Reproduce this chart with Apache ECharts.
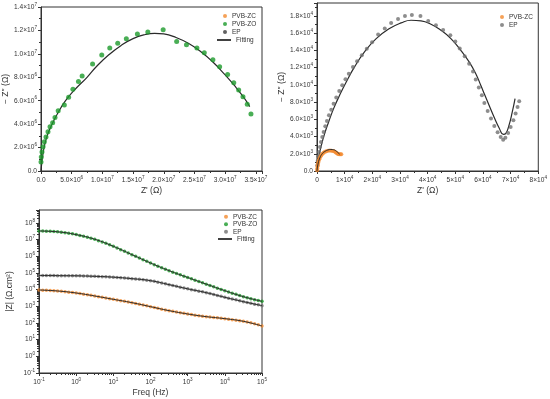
<!DOCTYPE html>
<html><head><meta charset="utf-8">
<script src="https://cdn.jsdelivr.net/npm/echarts@6/dist/echarts.min.js"></script>
<style>html,body{margin:0;padding:0;background:#fff}#c{width:550px;height:399px}</style>
</head><body><div id="c"></div>
<script>
// ---- Chart 1: Nyquist PVB-ZO (values in MΩ) ----
const zoRe = [0,0.05,0.16,0.33,0.54,0.81,1.14,1.47,1.9,2.28,2.8,3.8,4.5,5.2,6.1,6.7,8.4,9.9,11.2,12.5,13.9,15.7,17.4,19.9,22.1,23.7,25.4,26.6,28.0,29.1,30.4,31.4,32.2,32.9,33.6,34.2];
const zoIm = [0.77,1.2,1.63,2.06,2.49,2.91,3.34,3.77,4.11,4.57,5.14,5.63,6.3,6.97,7.63,8.1,9.14,9.9,10.5,10.9,11.3,11.7,11.86,12.06,11.06,10.77,10.49,10.1,9.49,8.91,8.23,7.54,6.91,6.34,5.69,4.86];
const fit1Re = [0,0.2,0.5,1.0,1.8,2.8,4.0,5.6,7.5,9.0,11,13,15,17,18.5,20,22,24,26,28,30,31.5,33,34];
const fit1Im = [0,1.0,2.0,3.0,4.0,5.0,6.0,7.0,8.0,8.9,9.9,10.7,11.3,11.65,11.75,11.7,11.4,10.9,10.2,9.3,8.2,7.3,6.3,5.5];
// ---- Chart 2: Nyquist EP and PVB-ZC (values in kΩ) ----
const epRe = [0.12,0.24,0.48,0.72,1.08,1.44,1.92,2.4,3.0,3.6,4.32,5.16,6.0,6.97,8.05,9.13,10.3,11.5,13.0,14.5,16.2,18.0,19.9,22.1,24.5,26.8,29.3,31.8,34.3,37.4,40.2,43.0,45.6,48.2,50.0,51.6,53.4,55.0,56.4,57.4,58.5,59.6,60.5,61.7,62.9,64.1,65.3,66.4,67.3,68.1,69.1,70.0,71.0,71.8,72.5,73.1];
const epIm = [0.66,1.16,1.7,2.21,2.79,3.37,3.95,4.53,5.19,5.81,6.46,7.12,7.82,8.52,9.29,9.95,10.65,11.3,12.08,12.74,13.43,14.2,14.94,15.83,16.53,17.19,17.65,18.0,18.12,18.0,17.42,16.92,16.37,15.76,15.02,14.21,13.32,12.46,11.54,10.61,9.68,8.79,7.9,6.97,6.08,5.23,4.49,3.95,3.64,3.87,4.41,5.11,5.88,6.66,7.43,8.09];
const fitEpRe = [0,0.24,0.72,1.56,2.76,4.2,6.0,8.17,10.57,13.57,17.17,21.4,26.2,30.4,34.0,37.6,41.2,44.8,48.4,52.0,55.0,57.4,59.2,60.7,62.2,64.0,65.8,67.4,68.2,69.4,70.6,71.6];
const fitEpIm = [0,0.85,1.82,2.98,4.34,5.69,7.24,8.79,10.34,12.08,13.82,15.37,16.53,17.19,17.5,17.42,17.03,16.34,15.37,14.01,12.66,11.3,9.95,8.79,7.63,6.27,5.03,4.26,4.34,5.3,6.85,8.4];
const zcRe = [0.05,0.1,0.2,0.3,0.45,0.6,0.8,1.0,1.3,1.6,2.0,2.4,2.9,3.4,4.0,4.6,5.2,5.8,6.3,6.8,7.2,7.6,8.0,8.4,8.8];
const zcIm = [0.1,0.3,0.55,0.75,0.95,1.15,1.35,1.52,1.7,1.85,2.0,2.12,2.22,2.3,2.35,2.37,2.36,2.32,2.25,2.15,2.05,1.98,1.94,1.93,1.95];
const fitZcRe = [0,0.3,1,2,3,4,5,6,7,7.7,8.2];
const fitZcIm = [0,0.7,1.5,2.05,2.3,2.45,2.5,2.47,2.3,2.1,1.95];
// ---- Chart 3: Bode |Z| ----
const freq = [0.1,0.126,0.158,0.2,0.251,0.316,0.398,0.501,0.631,0.794,
 1,1.26,1.58,2,2.51,3.16,3.98,5.01,6.31,7.94,
 10,12.6,15.8,20,25.1,31.6,39.8,50.1,63.1,79.4,
 100,126,158,200,251,316,398,501,631,794,
 1000,1260,1580,2000,2510,3160,3980,5010,6310,7940,
 10000,12600,15800,20000,25100,31600,39800,50100,63100,79400,100000];
const bodeZO = [3.31e7,3.31e7,3.24e7,3.16e7,3.09e7,2.95e7,2.82e7,2.63e7,2.45e7,2.24e7,2.0e7,1.78e7,1.58e7,1.38e7,1.2e7,1.05e7,8.71e6,7.24e6,6.03e6,4.9e6,3.98e6,3.16e6,2.51e6,2.0e6,1.58e6,1.26e6,1.0e6,7.94e5,6.31e5,5.01e5,3.98e5,3.16e5,2.57e5,2.09e5,1.70e5,1.38e5,1.12e5,9.33e4,7.76e4,6.46e4,5.37e4,4.47e4,3.72e4,3.09e4,2.57e4,2.14e4,1.78e4,1.48e4,1.23e4,1.02e4,8.71e3,7.24e3,6.17e3,5.25e3,4.47e3,3.80e3,3.31e3,2.88e3,2.51e3,2.24e3,2.0e3];
const bodeEP = [7.08e4,7.08e4,7.08e4,7.08e4,7.08e4,6.92e4,6.92e4,6.92e4,6.92e4,6.76e4,6.76e4,6.76e4,6.61e4,6.61e4,6.46e4,6.31e4,6.17e4,6.03e4,5.89e4,5.75e4,5.62e4,5.37e4,5.25e4,5.01e4,4.79e4,4.57e4,4.37e4,4.17e4,3.98e4,3.72e4,3.47e4,3.16e4,2.82e4,2.51e4,2.24e4,2.0e4,1.78e4,1.58e4,1.41e4,1.26e4,1.12e4,1.0e4,9.12e3,8.13e3,7.41e3,6.61e3,5.89e3,5.13e3,4.47e3,3.98e3,3.47e3,3.09e3,2.75e3,2.45e3,2.14e3,1.91e3,1.70e3,1.51e3,1.35e3,1.23e3,1.10e3];
const bodeZC = [9.55e3,9.33e3,9.12e3,8.91e3,8.71e3,8.32e3,7.94e3,7.59e3,7.08e3,6.76e3,6.31e3,5.89e3,5.37e3,5.01e3,4.57e3,4.17e3,3.80e3,3.47e3,3.16e3,2.88e3,2.63e3,2.40e3,2.19e3,2.0e3,1.82e3,1.66e3,1.48e3,1.32e3,1.20e3,1.07e3,955,851,759,676,603,550,501,457,417,380,347,324,295,275,257,240,229,214,204,191,182,170,158,148,138,126,115,102,91.2,77.6,66.1];
const fitFreq = [0.1,0.316,1,3.16,10,31.6,100,316,1000,3162,10000,31620,100000];
const fitZO = [3.31e7,2.95e7,2.0e7,1.05e7,3.98e6,1.26e6,3.98e5,1.38e5,5.37e4,2.14e4,8.71e3,3.80e3,2.0e3];
const fitEP = [7.08e4,6.92e4,6.76e4,6.31e4,5.62e4,4.57e4,3.47e4,2.0e4,1.12e4,6.61e3,3.47e3,1.91e3,1.10e3];
const fitZC = [9.55e3,8.32e3,6.31e3,4.17e3,2.63e3,1.66e3,955,550,347,240,182,126,66.1];

const FF = 'Liberation Sans, Arial, sans-serif';
const C_ZC = '#f28a2e', C_ZO = '#1b9a2a', C_EP = '#707070', C_EP1 = '#3a3a3a', C_FIT = '#2a2a2a';
const zip = (a, b, k) => a.map((v, i) => [v * k, b[i] * k]);
const zip2 = (a, b) => a.map((v, i) => [v, b[i]]);

const rich = {
  m: {fontSize: 6.6, fontFamily: FF, color: '#333', lineHeight: 10},
  e: {fontSize: 4.6, fontFamily: FF, color: '#333', lineHeight: 5, verticalAlign: 'top'}
};
function sci(dec, zeroTxt) {
  return function (v) {
    if (v === 0) return '{m|' + zeroTxt + '}';
    const e = Math.floor(Math.log10(v) + 1e-9);
    const m = v / Math.pow(10, e);
    return '{m|' + m.toFixed(dec) + '×10}{e|' + e + '}';
  };
}
function pow10(v) {
  const e = Math.round(Math.log10(v));
  return '{m|10}{e|' + e + '}';
}
const axLine = {lineStyle: {color: '#333', width: 1}};
const axTick = {show: true, inside: false, length: 3, lineStyle: {color: '#333'}};
const minor2 = {show: true, splitNumber: 2, length: 2, lineStyle: {color: '#333'}};
const nameStyle = {fontSize: 8.5, fontFamily: FF, color: '#333'};

function valAxis(opt) {
  return Object.assign({
    type: 'value', splitLine: {show: false}, minorSplitLine: {show: false},
    axisLine: Object.assign({show: true, onZero: false}, axLine),
    axisTick: axTick, minorTick: minor2, nameLocation: 'middle', nameTextStyle: nameStyle
  }, opt);
}

const option = {
  animation: false,
  backgroundColor: '#fff',
  grid: [
    {left: 40, top: 7, width: 222, height: 164, show: true, borderColor: '#333', borderWidth: 1},
    {left: 317, top: 3, width: 222, height: 168, show: true, borderColor: '#333', borderWidth: 1},
    {left: 39, top: 210, width: 223, height: 163, show: true, borderColor: '#333', borderWidth: 1}
  ],
  xAxis: [
    valAxis({gridIndex: 0, min: 0, max: 3.6e7, interval: 5e6, name: "Z' (Ω)", nameGap: 15,
      axisLabel: {showMaxLabel: false, margin: 4, formatter: sci(1, '0.0'), rich: rich}}),
    valAxis({gridIndex: 1, min: 0, max: 8e4, interval: 1e4, name: "Z' (Ω)", nameGap: 15,
      axisLabel: {margin: 4, formatter: sci(0, '0'), rich: rich}}),
    valAxis({gridIndex: 2, type: 'log', logBase: 10, min: 0.1, max: 1e5, name: 'Freq (Hz)', nameGap: 15,
      minorTick: {show: true, splitNumber: 9, length: 2, lineStyle: {color: '#333'}},
      axisLabel: {margin: 4, formatter: pow10, rich: rich}})
  ],
  yAxis: [
    valAxis({gridIndex: 0, min: 0, max: 1.4e7, interval: 2e6, name: "− Z'' (Ω)", nameGap: 31,
      axisLabel: {margin: 4, formatter: sci(1, '0.0'), rich: rich}}),
    valAxis({gridIndex: 1, min: 0, max: 19500, interval: 2000, name: "− Z'' (Ω)", nameGap: 31,
      axisLabel: {showMaxLabel: false, margin: 4, formatter: sci(1, '0.0'), rich: rich}}),
    valAxis({gridIndex: 2, type: 'log', logBase: 10, min: 0.1, max: 6e8, name: '|Z| (Ω.cm²)', nameGap: 25,
      minorTick: {show: true, splitNumber: 9, length: 2, lineStyle: {color: '#333'}},
      axisLabel: {showMaxLabel: false, margin: 4, formatter: pow10, rich: rich}})
  ],
  legend: [
    {left: 223, top: 12, orient: 'vertical', padding: 0, itemGap: 0, itemWidth: 4, itemHeight: 4, icon: 'circle', selectedMode: false,
      textStyle: {fontSize: 6.5, fontFamily: FF, color: '#333', lineHeight: 8},
      data: [{name: 'PVB-ZC', itemStyle: {color: C_ZC}}, {name: 'PVB-ZO', itemStyle: {color: C_ZO}}, {name: 'EP', itemStyle: {color: C_EP1}}]},
    {left: 217, top: 36, padding: 0, itemWidth: 14, itemHeight: 1.6, icon: 'rect', selectedMode: false,
      textStyle: {fontSize: 6.5, fontFamily: FF, color: '#333', lineHeight: 8},
      data: [{name: 'Fitting', itemStyle: {color: '#111'}}]},
    {left: 500, top: 13, orient: 'vertical', padding: 0, itemGap: 0, itemWidth: 4, itemHeight: 4, icon: 'circle', selectedMode: false,
      textStyle: {fontSize: 6.5, fontFamily: FF, color: '#333', lineHeight: 8},
      data: [{name: 'PVB-ZC', itemStyle: {color: C_ZC}}, {name: 'EP', itemStyle: {color: C_EP}}]},
    {left: 224, top: 213, orient: 'vertical', padding: 0, itemGap: 0, itemWidth: 4, itemHeight: 4, icon: 'circle', selectedMode: false,
      textStyle: {fontSize: 6.5, fontFamily: FF, color: '#333', lineHeight: 7.5},
      data: [{name: 'PVB-ZC', itemStyle: {color: C_ZC}}, {name: 'PVB-ZO', itemStyle: {color: C_ZO}}, {name: 'EP', itemStyle: {color: C_EP}}]},
    {left: 218, top: 235, padding: 0, itemWidth: 14, itemHeight: 1.6, icon: 'rect', selectedMode: false,
      textStyle: {fontSize: 6.5, fontFamily: FF, color: '#333', lineHeight: 8},
      data: [{name: 'Fitting', itemStyle: {color: '#111'}}]}
  ],
  series: [
    // chart 1
    {name: 'Fitting', type: 'line', xAxisIndex: 0, yAxisIndex: 0, smooth: true, showSymbol: false, z: 2,
      lineStyle: {color: C_FIT, width: 1.2}, itemStyle: {color: C_FIT}, data: zip(fit1Re, fit1Im, 1e6)},
    {name: 'PVB-ZO', type: 'scatter', xAxisIndex: 0, yAxisIndex: 0, symbolSize: 5, z: 3,
      itemStyle: {color: C_ZO}, data: zip(zoRe, zoIm, 1e6)},
    // chart 2
    {name: 'Fitting', type: 'line', xAxisIndex: 1, yAxisIndex: 1, smooth: true, showSymbol: false, z: 2,
      lineStyle: {color: C_FIT, width: 1.2}, data: zip(fitEpRe, fitEpIm, 1e3)},
    {name: 'EP', type: 'scatter', xAxisIndex: 1, yAxisIndex: 1, symbolSize: 4, z: 3,
      itemStyle: {color: C_EP}, data: zip(epRe, epIm, 1e3)},
    {name: 'PVB-ZC', type: 'scatter', xAxisIndex: 1, yAxisIndex: 1, symbolSize: 4, z: 3,
      itemStyle: {color: C_ZC}, data: zip(zcRe, zcIm, 1e3)},
    {name: 'Fitting', type: 'line', xAxisIndex: 1, yAxisIndex: 1, smooth: true, showSymbol: false, z: 4,
      lineStyle: {color: C_FIT, width: 1}, data: zip(fitZcRe, fitZcIm, 1e3)},
    // chart 3
    {name: 'PVB-ZC', type: 'scatter', xAxisIndex: 2, yAxisIndex: 2, symbolSize: 3.5, z: 3,
      itemStyle: {color: C_ZC}, data: zip2(freq, bodeZC)},
    {name: 'PVB-ZO', type: 'scatter', xAxisIndex: 2, yAxisIndex: 2, symbolSize: 3.5, z: 3,
      itemStyle: {color: C_ZO}, data: zip2(freq, bodeZO)},
    {name: 'EP', type: 'scatter', xAxisIndex: 2, yAxisIndex: 2, symbolSize: 3.5, z: 3,
      itemStyle: {color: C_EP}, data: zip2(freq, bodeEP)},
    {name: 'Fitting', type: 'line', xAxisIndex: 2, yAxisIndex: 2, smooth: true, showSymbol: false, z: 4,
      lineStyle: {color: C_FIT, width: 1}, data: zip2(fitFreq, fitZC)},
    {name: 'Fitting', type: 'line', xAxisIndex: 2, yAxisIndex: 2, smooth: true, showSymbol: false, z: 4,
      lineStyle: {color: C_FIT, width: 1}, data: zip2(fitFreq, fitZO)},
    {name: 'Fitting', type: 'line', xAxisIndex: 2, yAxisIndex: 2, smooth: true, showSymbol: false, z: 4,
      lineStyle: {color: C_FIT, width: 1}, data: zip2(fitFreq, fitEP)}
  ]
};
const chart = echarts.init(document.getElementById('c'), null, {renderer: 'canvas'});
chart.setOption(option);
</script></body></html>
